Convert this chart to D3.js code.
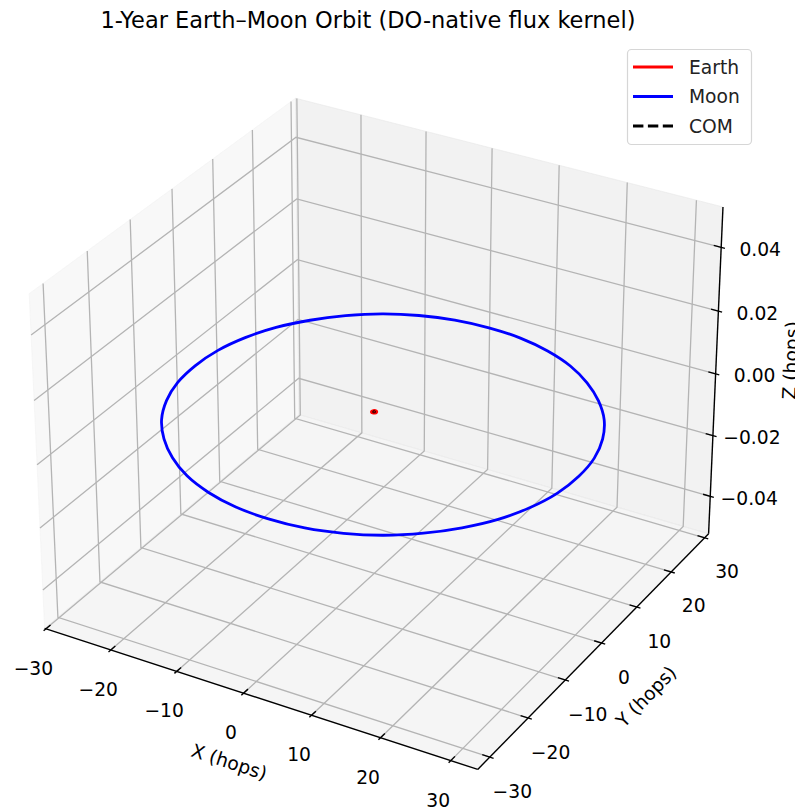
<!DOCTYPE html>
<html><head><meta charset="utf-8">
<script src="https://cdn.jsdelivr.net/npm/d3@7"></script>
<style>body{margin:0;background:#fff;} svg{display:block;font-family:"DejaVu Sans",sans-serif;}</style>
</head><body><svg id="c" width="795" height="809"></svg>
<script>
// ---------- data ----------
const title = "1-Year Earth–Moon Orbit (DO-native flux kernel)";
const xTicks = [-30, -20, -10, 0, 10, 20, 30];
const yTicks = [-30, -20, -10, 0, 10, 20, 30];
const zTicks = [-0.04, -0.02, 0, 0.02, 0.04];
const xTickLabels = ["−30", "−20", "−10", "0", "10", "20", "30"];
const yTickLabels = ["−30", "−20", "−10", "0", "10", "20", "30"];
const zTickLabels = ["−0.04", "−0.02", "0.00", "0.02", "0.04"];
const xDomain = [-30.2, 33.8];
const yDomain = [-33.1, 31.2];
const zDomain = [-0.0525, 0.0525];
// Moon orbit (hops), sampled around the loop
const moonX = [30.5, 30.1, 28.8, 26.7, 23.8, 20.3, 16.3, 11.8, 7.0, 2.0, -3.0, -7.8, -12.3, -16.3, -19.8, -22.7, -24.8, -26.1,
               -26.5, -26.1, -24.8, -22.7, -19.8, -16.3, -12.3, -7.8, -3.0, 2.0, 7.0, 11.8, 16.3, 20.3, 23.8, 26.7, 28.8, 30.1];
const moonY = [-1.2, 3.8, 8.6, 13.1, 17.1, 20.6, 23.5, 25.6, 26.9, 27.3, 26.9, 25.6, 23.5, 20.6, 17.1, 13.1, 8.6, 3.8,
               -1.2, -6.2, -11.0, -15.5, -19.5, -23.0, -25.9, -28.0, -29.3, -29.7, -29.3, -28.0, -25.9, -23.0, -19.5, -15.5, -11.0, -6.2];
const moonZ = [0, 0, 0, 0, 0, 0, 0, 0, 0, 0, 0, 0, 0, 0, 0, 0, 0, 0, 0, 0, 0, 0, 0, 0, 0, 0, 0, 0, 0, 0, 0, 0, 0, 0, 0, 0];
// Earth wobble around the centre of mass
const earthX = [0.35, 0.25, 0, -0.25, -0.35, -0.25, 0, 0.25];
const earthY = [0, 0.25, 0.35, 0.25, 0, -0.25, -0.35, -0.25];
const earthZ = [0, 0, 0, 0, 0, 0, 0, 0];
// centre of mass
const comX = [0.08, 0, -0.08, 0];
const comY = [0, 0.08, 0, -0.08];
const comZ = [0, 0, 0, 0];
const legendItems = [
  {name: "Earth", color: "#ff0000", dash: null},
  {name: "Moon", color: "#0000ff", dash: null},
  {name: "COM", color: "#000000", dash: "10.4,4.5"}
];

// ---------- projection (elev 30, azim -60, perspective) ----------
const elev = 30 * Math.PI / 180, azim = -60 * Math.PI / 180, dist = 10;
const kA = 1.8294640721620434 / Math.sqrt(41);
const hx = 2 * kA, hy = 2 * kA, hz = 1.5 * kA * 1.025;
const sx = d3.scaleLinear().domain(xDomain).range([-hx, hx]);
const sy = d3.scaleLinear().domain(yDomain).range([-hy, hy]);
const sz = d3.scaleLinear().domain(zDomain).range([-hz, hz]);
const W = [Math.cos(elev) * Math.cos(azim), Math.cos(elev) * Math.sin(azim), Math.sin(elev)];
const U = [-Math.sin(azim), Math.cos(azim), 0];
const V = [-Math.sin(elev) * Math.cos(azim), -Math.sin(elev) * Math.sin(azim), Math.cos(elev)];
const S = 4345, OX = 382.5, OY = 418.5;
const dot = (a, b) => a[0] * b[0] + a[1] * b[1] + a[2] * b[2];
function P(x, y, z) {
  const q = [sx(x), sy(y), sz(z)];
  const d = dist - dot(W, q);
  return [OX + S * dot(U, q) / d, OY - S * dot(V, q) / d];
}

const svg = d3.select("#c");
const [x0, x1] = xDomain, [y0, y1] = yDomain, [z0, z1] = zDomain;
const line = d3.line();
const poly = pts => line(pts.map(p => P(...p))) + "Z";
const path = pts => line(pts.map(p => P(...p)));

// panes
const g = svg.append("g");
g.append("path").attr("d", poly([[x0,y0,z0],[x0,y1,z0],[x0,y1,z1],[x0,y0,z1]]))
  .attr("fill", "rgba(242,242,242,0.5)").attr("stroke", "rgba(242,242,242,0.5)").attr("stroke-width", 1);
g.append("path").attr("d", poly([[x0,y1,z0],[x1,y1,z0],[x1,y1,z1],[x0,y1,z1]]))
  .attr("fill", "rgba(230,230,230,0.5)").attr("stroke", "rgba(230,230,230,0.5)").attr("stroke-width", 1);
g.append("path").attr("d", poly([[x0,y0,z0],[x1,y0,z0],[x1,y1,z0],[x0,y1,z0]]))
  .attr("fill", "rgba(236,236,236,0.5)").attr("stroke", "rgba(236,236,236,0.5)").attr("stroke-width", 1);

// grid
const gridStyle = s => s.attr("fill", "none").attr("stroke", "#b4b4b4").attr("stroke-width", 1.3);
xTicks.forEach(t => g.append("path").attr("d", path([[t,y0,z0],[t,y1,z0],[t,y1,z1]])).call(gridStyle));
yTicks.forEach(t => g.append("path").attr("d", path([[x1,t,z0],[x0,t,z0],[x0,t,z1]])).call(gridStyle));
zTicks.forEach(t => g.append("path").attr("d", path([[x0,y0,t],[x0,y1,t],[x1,y1,t]])).call(gridStyle));

// axis lines
const axStyle = s => s.attr("fill", "none").attr("stroke", "#000").attr("stroke-width", 1.4);
g.append("path").attr("d", path([[x0,y0,z0],[x1,y0,z0]])).call(axStyle);
g.append("path").attr("d", path([[x1,y0,z0],[x1,y1,z0]])).call(axStyle);
g.append("path").attr("d", path([[x1,y1,z0],[x1,y1,z1]])).call(axStyle);

// ticks
const dX = (x1 - x0) / 12, dY = (y1 - y0) / 12;
const tickStyle = s => s.attr("fill", "none").attr("stroke", "#000").attr("stroke-width", 1.4);
const fs = 18.7;
xTicks.forEach((t, i) => {
  g.append("path").attr("d", path([[t, y0 + 0.2 * dY, z0], [t, y0 - 0.1 * dY, z0]])).call(tickStyle);
  const p = P(t, y0, z0);
  g.append("text").attr("x", p[0] - 12.5).attr("y", p[1] + 39.5).attr("text-anchor", "middle")
    .attr("dominant-baseline", "central").attr("font-size", fs).text(xTickLabels[i]);
});
yTicks.forEach((t, i) => {
  g.append("path").attr("d", path([[x1 - 0.2 * dX, t, z0], [x1 + 0.1 * dX, t, z0]])).call(tickStyle);
  const p = P(x1, t, z0);
  g.append("text").attr("x", p[0] + 22.5).attr("y", p[1] + 34).attr("text-anchor", "middle")
    .attr("dominant-baseline", "central").attr("font-size", fs).text(yTickLabels[i]);
});
zTicks.forEach((t, i) => {
  g.append("path").attr("d", path([[x1 - 0.2 * dX, y1, t], [x1 + 0.1 * dX, y1, t]])).call(tickStyle);
  const p = P(x1, y1, t);
  g.append("text").attr("x", p[0] + 39).attr("y", p[1] + 2).attr("text-anchor", "middle")
    .attr("dominant-baseline", "central").attr("font-size", fs).text(zTickLabels[i]);
});

// axis labels
function axisLabel(txt, a, b, dx, dy) {
  const pa = P(...a), pb = P(...b);
  const mx = (pa[0] + pb[0]) / 2 + dx, my = (pa[1] + pb[1]) / 2 + dy;
  let ang = Math.atan2(pb[1] - pa[1], pb[0] - pa[0]) * 180 / Math.PI;
  if (ang > 90) ang -= 180; if (ang < -90) ang += 180;
  g.append("text").attr("transform", `translate(${mx},${my}) rotate(${ang})`)
    .attr("text-anchor", "middle").attr("dominant-baseline", "central").attr("font-size", fs).text(txt);
}
axisLabel("X (hops)", [x0, y0, z0], [x1, y0, z0], -32, 63);
axisLabel("Y (hops)", [x1, y0, z0], [x1, y1, z0], 53, 45);
axisLabel("Z (hops)", [x1, y1, z0], [x1, y1, z1], 75, -10);

// data lines
const closed = d3.line().curve(d3.curveCatmullRomClosed);
const proj3 = (X, Y, Z) => X.map((x, i) => P(x, Y[i], Z[i]));
g.append("path").attr("d", closed(proj3(moonX, moonY, moonZ)))
  .attr("fill", "none").attr("stroke", "#0000ff").attr("stroke-width", 2.8);
g.append("path").attr("d", closed(proj3(earthX, earthY, earthZ)))
  .attr("fill", "none").attr("stroke", "#ff0000").attr("stroke-width", 2.8);
g.append("path").attr("d", closed(proj3(comX, comY, comZ)))
  .attr("fill", "none").attr("stroke", "#000").attr("stroke-width", 2.4).attr("stroke-dasharray", "10.4,4.5");

// legend
const lg = svg.append("g");
lg.append("rect").attr("x", 627.5).attr("y", 49.5).attr("width", 124).attr("height", 95).attr("rx", 4)
  .attr("fill", "rgba(255,255,255,0.8)").attr("stroke", "#d6d6d6").attr("stroke-width", 1.2);
legendItems.forEach((d, i) => {
  const yy = 67 + i * 29.5;
  const l = lg.append("line").attr("x1", 633).attr("x2", 673).attr("y1", yy).attr("y2", yy)
    .attr("stroke", d.color).attr("stroke-width", 2.8);
  if (d.dash) l.attr("stroke-dasharray", d.dash);
  lg.append("text").attr("x", 689).attr("y", yy).attr("dominant-baseline", "central")
    .attr("font-size", fs).attr("fill", "#222").text(d.name);
});

// title
svg.append("text").attr("x", 368).attr("y", 28).attr("text-anchor", "middle")
  .attr("font-size", 22.5).text(title);
</script></body></html>
